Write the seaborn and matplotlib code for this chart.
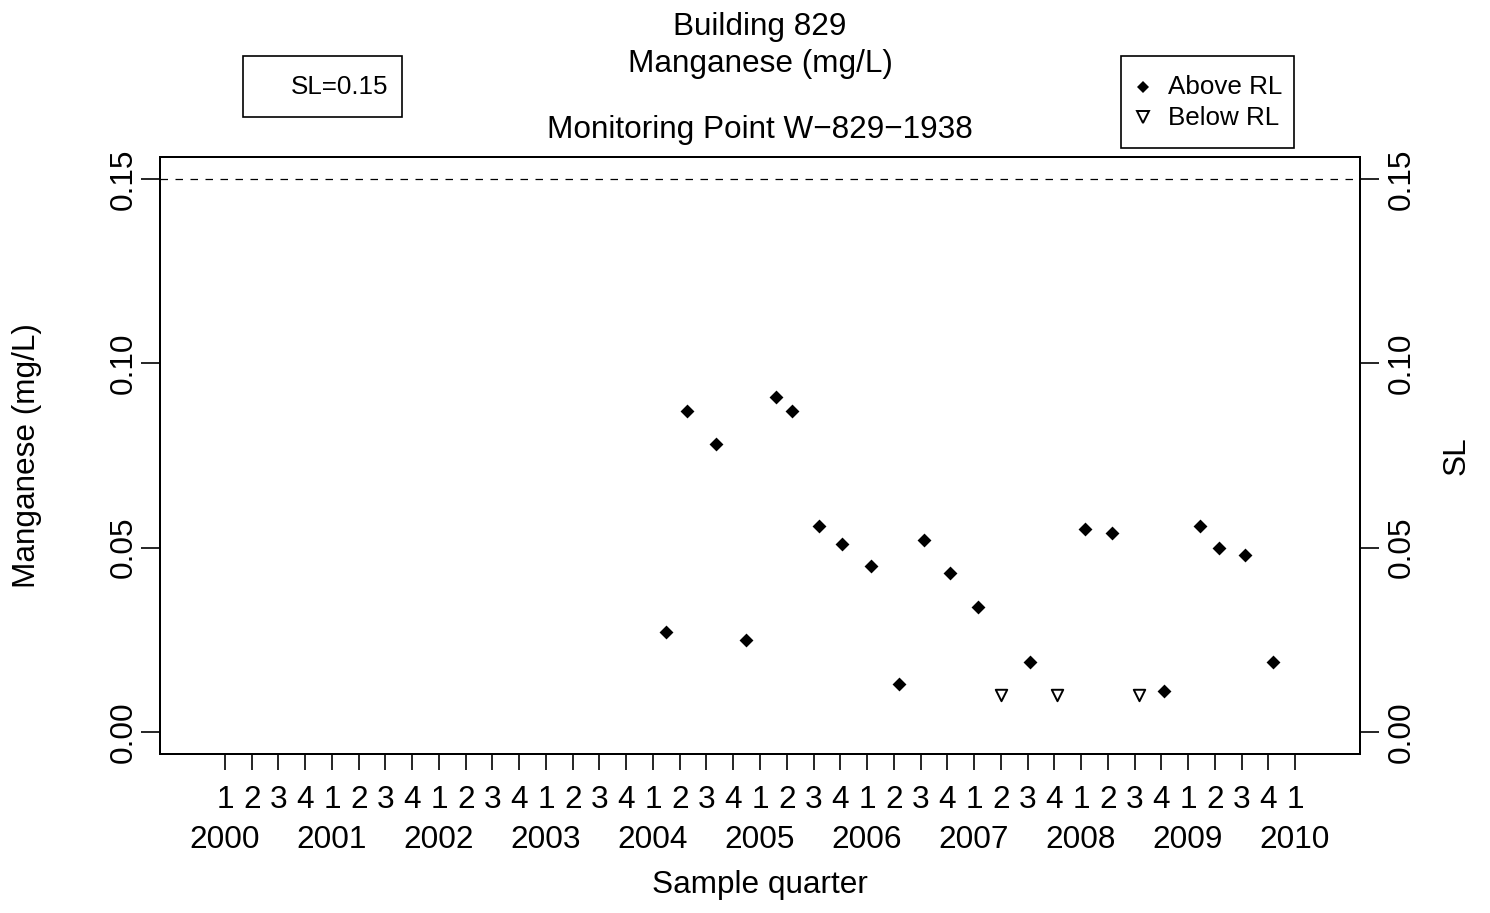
import numpy as np
import pandas as pd
import matplotlib
matplotlib.use("Agg")
import matplotlib.pyplot as plt
from matplotlib.lines import Line2D
from matplotlib.patches import Rectangle
import seaborn as sns

# Sample dates (decimal years), manganese results (mg/L) and detection flag
sample_dates = [2004.121, 2004.318, 2004.589, 2004.869, 2005.150, 2005.299,
                2005.551, 2005.766, 2006.037, 2006.299, 2006.533, 2006.776,
                2007.037, 2007.252, 2007.523, 2007.776, 2008.037, 2008.290,
                2008.542, 2008.776, 2009.112, 2009.290, 2009.533, 2009.794]
manganese = [0.027, 0.087, 0.078, 0.025, 0.091, 0.087,
             0.056, 0.051, 0.045, 0.013, 0.052, 0.043,
             0.034, 0.010, 0.019, 0.010, 0.055, 0.054,
             0.010, 0.011, 0.056, 0.050, 0.048, 0.019]
detect_flag = ["Above RL"] * 13 + ["Below RL", "Above RL", "Below RL",
               "Above RL", "Above RL", "Below RL"] + ["Above RL"] * 5

screening_level = 0.15
years = list(range(2000, 2011))
quarter_ticks = [2000 + 0.25 * i for i in range(41)]
quarter_labels = [str(i % 4 + 1) for i in range(41)]
y_ticks = [0.00, 0.05, 0.10, 0.15]
y_tick_labels = ["0.00", "0.05", "0.10", "0.15"]

df = pd.DataFrame({"date": sample_dates, "value": manganese, "flag": detect_flag})

sns.set_theme(style="white")
plt.rcParams["font.family"] = ["Liberation Sans", "DejaVu Sans"]
plt.rcParams["axes.edgecolor"] = "black"
plt.rcParams["axes.linewidth"] = 1.4
for key in ("text.color", "axes.labelcolor", "xtick.color", "ytick.color"):
    plt.rcParams[key] = "black"

FS = 22.7      # main text size
LFS = 18.7     # legend text size

W, H = 1490, 913
fig = plt.figure(figsize=(W / 100, H / 100), dpi=100)


def fx(px):
    return px / W


def fy(py):
    return 1 - py / H


ax_l, ax_r, ax_t, ax_b = 160, 1360, 157, 754
ax = fig.add_axes([fx(ax_l), fy(ax_b), fx(ax_r - ax_l), (ax_b - ax_t) / H])
ax_w, ax_h = ax_r - ax_l, ax_b - ax_t

above = df[df["flag"] == "Above RL"]
below = df[df["flag"] == "Below RL"]
sns.scatterplot(data=above, x="date", y="value", marker="D", s=50,
                color="black", linewidth=0, ax=ax, legend=False, zorder=3)
sns.scatterplot(data=below, x="date", y="value", marker="v", s=68,
                color="white", edgecolor="black", linewidth=1.4, ax=ax,
                legend=False, zorder=3)

ax.axhline(screening_level, color="black", lw=0.9, ls=(0, (6.0, 6.0)), zorder=2)

ax.set_xlim(1999.393, 2010.607)
ax.set_ylim(-0.006, 0.156)

ax.set_xticks(quarter_ticks)
ax.set_xticklabels(quarter_labels, fontsize=FS)
ax.tick_params(axis="x", direction="out", length=11.5, width=1.2, pad=11,
               color="black", bottom=True)
ax.set_yticks(y_ticks)
ax.set_yticklabels(y_tick_labels, fontsize=FS, rotation=90, va="center")
ax.tick_params(axis="y", direction="out", length=13.5, width=1.2, pad=2,
               color="black", left=True)

for yr in years:
    ax.text(yr, -(848 - ax_b) / ax_h, str(yr), fontsize=FS, ha="center",
            va="baseline", transform=ax.get_xaxis_transform())

ax.set_xlabel("Sample quarter", fontsize=FS)
ax.xaxis.label.set_va("baseline")
ax.xaxis.set_label_coords(0.5, -(893 - ax_b) / ax_h)
ax.set_ylabel("Manganese (mg/L)", fontsize=FS)
ax.yaxis.label.set_va("center")
ax.yaxis.set_label_coords((27 - ax_l) / ax_w, 0.5)

ax2 = ax.twinx()
ax2.set_ylim(ax.get_ylim())
ax2.set_yticks(y_ticks)
ax2.set_yticklabels(y_tick_labels, fontsize=FS, rotation=90, va="center")
ax2.tick_params(axis="y", direction="out", length=13.5, width=1.2, pad=6,
                color="black", right=True)
ax2.set_ylabel("SL", fontsize=FS, rotation=90)
ax2.yaxis.label.set_va("center")
ax2.yaxis.set_label_coords((1457 - ax_l) / ax_w, 0.5)
for a in (ax, ax2):
    for sp in a.spines.values():
        sp.set_color("black")
        sp.set_linewidth(1.4)

# Titles
cx = fx((ax_l + ax_r) / 2)
fig.text(cx, fy(35), "Building 829", fontsize=FS, ha="center", va="baseline")
fig.text(cx, fy(72), "Manganese (mg/L)", fontsize=FS, ha="center", va="baseline")
fig.text(cx, fy(138), "Monitoring Point W\u2212829\u22121938", fontsize=FS,
         ha="center", va="baseline")

# Screening-level legend box
fig.add_artist(Rectangle((fx(243), fy(117)), fx(402 - 243), (117 - 56) / H,
                         transform=fig.transFigure, fill=False,
                         edgecolor="black", lw=1.2))
fig.text(fx(388), fy(87), "SL=%.2f" % screening_level, fontsize=LFS,
         ha="right", va="center")

# Detection legend box
fig.add_artist(Rectangle((fx(1121), fy(148)), fx(1294 - 1121), (148 - 56) / H,
                         transform=fig.transFigure, fill=False,
                         edgecolor="black", lw=1.2))
fig.add_artist(Line2D([fx(1143)], [fy(87)], transform=fig.transFigure,
                      marker="D", markersize=6.3, color="black", lw=0,
                      markeredgewidth=0))
fig.add_artist(Line2D([fx(1143)], [fy(117)], transform=fig.transFigure,
                      marker="v", markersize=8.5, markerfacecolor="white",
                      markeredgecolor="black", markeredgewidth=1.4, lw=0))
fig.text(fx(1168), fy(87), "Above RL", fontsize=LFS, ha="left", va="center")
fig.text(fx(1168), fy(118), "Below RL", fontsize=LFS, ha="left", va="center")

fig.savefig("out.png", dpi=100)
